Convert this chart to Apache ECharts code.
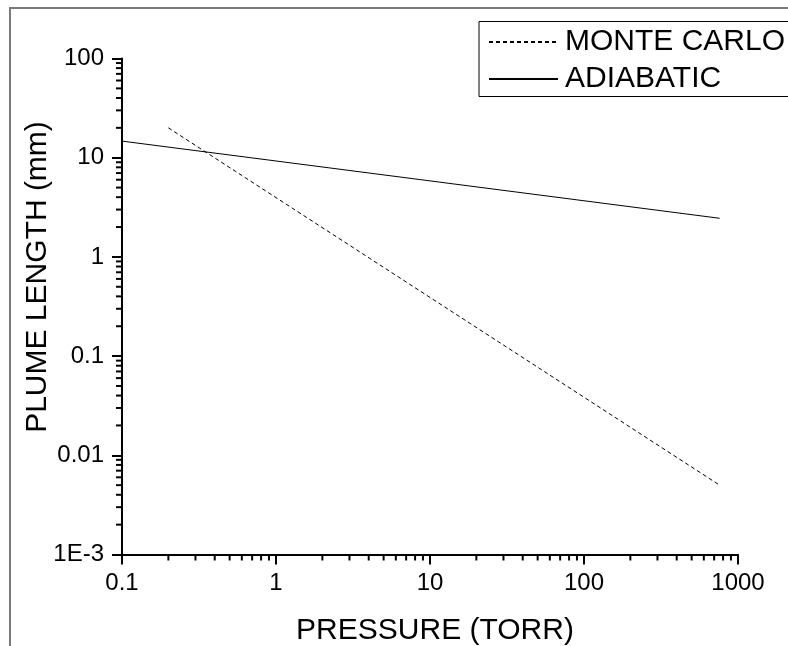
<!DOCTYPE html>
<html>
<head>
<meta charset="utf-8">
<script src="https://cdn.jsdelivr.net/npm/echarts@6/dist/echarts.min.js"></script>
<style>
html,body{margin:0;padding:0;background:#fff;}
#chart{width:788px;height:646px;}
</style>
</head>
<body>
<div id="chart"></div>
<script>
// ---- data ----
const seriesNames = ['MONTE CARLO', 'ADIABATIC'];
const monteCarloX = [0.2, 760];
const monteCarloY = [20, 0.005];
const adiabaticX = [0.1, 760];
const adiabaticY = [14.7, 2.45];
const xMin = 0.1, xMax = 1000;
const yMin = 0.001, yMax = 100;
const xMinorTicks = [0.2,0.3,0.4,0.5,0.6,0.7,0.8,0.9, 2,3,4,5,6,7,8,9, 20,30,40,50,60,70,80,90, 200,300,400,500,600,700,800,900];
const yMinorTicks = [0.002,0.003,0.004,0.005,0.006,0.007,0.008,0.009, 0.02,0.03,0.04,0.05,0.06,0.07,0.08,0.09, 0.2,0.3,0.4,0.5,0.6,0.7,0.8,0.9, 2,3,4,5,6,7,8,9, 20,30,40,50,60,70,80,90];
const xTitle = 'PRESSURE (TORR)';
const yTitle = 'PLUME LENGTH (mm)';

const FONT = '"Liberation Sans", Arial, sans-serif';

function fmt(v) {
  const e = Math.round(Math.log10(v));
  if (e === -3) return '1E-3';
  if (e < 0) return Math.pow(10, e).toFixed(-e);
  return String(Math.pow(10, e));
}

const chart = echarts.init(document.getElementById('chart'), null, {renderer: 'canvas'});

const axisCommon = {
  type: 'log',
  logBase: 10,
  axisLine: {show: true, onZero: false, lineStyle: {color: '#000', width: 2}},
  axisTick: {show: true, inside: false, length: 10, lineStyle: {color: '#000', width: 2}},
  splitLine: {show: false},
  minorTick: {show: false},
  axisLabel: {color: '#000', fontSize: 24, fontFamily: FONT, formatter: fmt}
};

const option = {
  backgroundColor: '#fff',
  animation: false,
  grid: {left: 122, right: 50, top: 58.5, bottom: 91.5, containLabel: false},
  xAxis: Object.assign({}, axisCommon, {
    min: xMin, max: xMax, splitNumber: 4,
    axisLabel: Object.assign({}, axisCommon.axisLabel, {margin: 17})
  }),
  yAxis: Object.assign({}, axisCommon, {
    min: yMin, max: yMax, splitNumber: 5,
    axisLabel: Object.assign({}, axisCommon.axisLabel, {margin: 18})
  }),
  legend: {
    data: seriesNames.map(n => ({name: n, itemStyle: {opacity: 0}})),
    orient: 'vertical',
    left: 479,
    top: 21.5,
    padding: [5.5, 10, 2.5, 9],
    itemWidth: 69,
    itemHeight: 14,
    itemGap: 7,
    borderColor: '#000',
    borderWidth: 1,
    selectedMode: false,
    itemStyle: {opacity: 0},
    textStyle: {color: '#000', fontSize: 30, fontFamily: FONT, lineHeight: 30, padding: [0, 0, 0, 2]}
  },
  graphic: [
    {type: 'rect', silent: true, z: -10,
     shape: {x: 10, y: 8, width: 1000, height: 1000},
     style: {fill: 'none', stroke: '#7a7a7a', lineWidth: 2}},
    {type: 'text', silent: true, x: 435, y: 630.5,
     style: {text: xTitle, font: '30px ' + FONT, fill: '#000', align: 'center', verticalAlign: 'middle'}},
    {type: 'text', silent: true, x: 37.5, y: 277, rotation: Math.PI / 2,
     style: {text: yTitle, font: '30px ' + FONT, fill: '#000', align: 'center', verticalAlign: 'middle'}}
  ],
  series: [
    {
      name: seriesNames[0], type: 'line', symbol: 'none', silent: true,
      data: monteCarloX.map((x, i) => [x, monteCarloY[i]]),
      lineStyle: {color: '#000', width: 1, type: [4, 3]},
      itemStyle: {color: '#000'}
    },
    {
      name: seriesNames[1], type: 'line', symbol: 'none', silent: true,
      data: adiabaticX.map((x, i) => [x, adiabaticY[i]]),
      lineStyle: {color: '#000', width: 1, type: 'solid'},
      itemStyle: {color: '#000'}
    },
    {
      name: 'xminor', type: 'custom', silent: true, clip: false,
      data: xMinorTicks.map(v => [v, yMin]),
      renderItem: function (params, api) {
        const p = api.coord([api.value(0), api.value(1)]);
        return {type: 'line', shape: {x1: p[0], y1: p[1], x2: p[0], y2: p[1] + 6},
                style: {stroke: '#000', lineWidth: 2}};
      }
    },
    {
      name: 'yminor', type: 'custom', silent: true, clip: false,
      data: yMinorTicks.map(v => [xMin, v]),
      renderItem: function (params, api) {
        const p = api.coord([api.value(0), api.value(1)]);
        return {type: 'line', shape: {x1: p[0] - 6, y1: p[1], x2: p[0], y2: p[1]},
                style: {stroke: '#000', lineWidth: 2}};
      }
    }
  ]
};

chart.setOption(option);
</script>
</body>
</html>
